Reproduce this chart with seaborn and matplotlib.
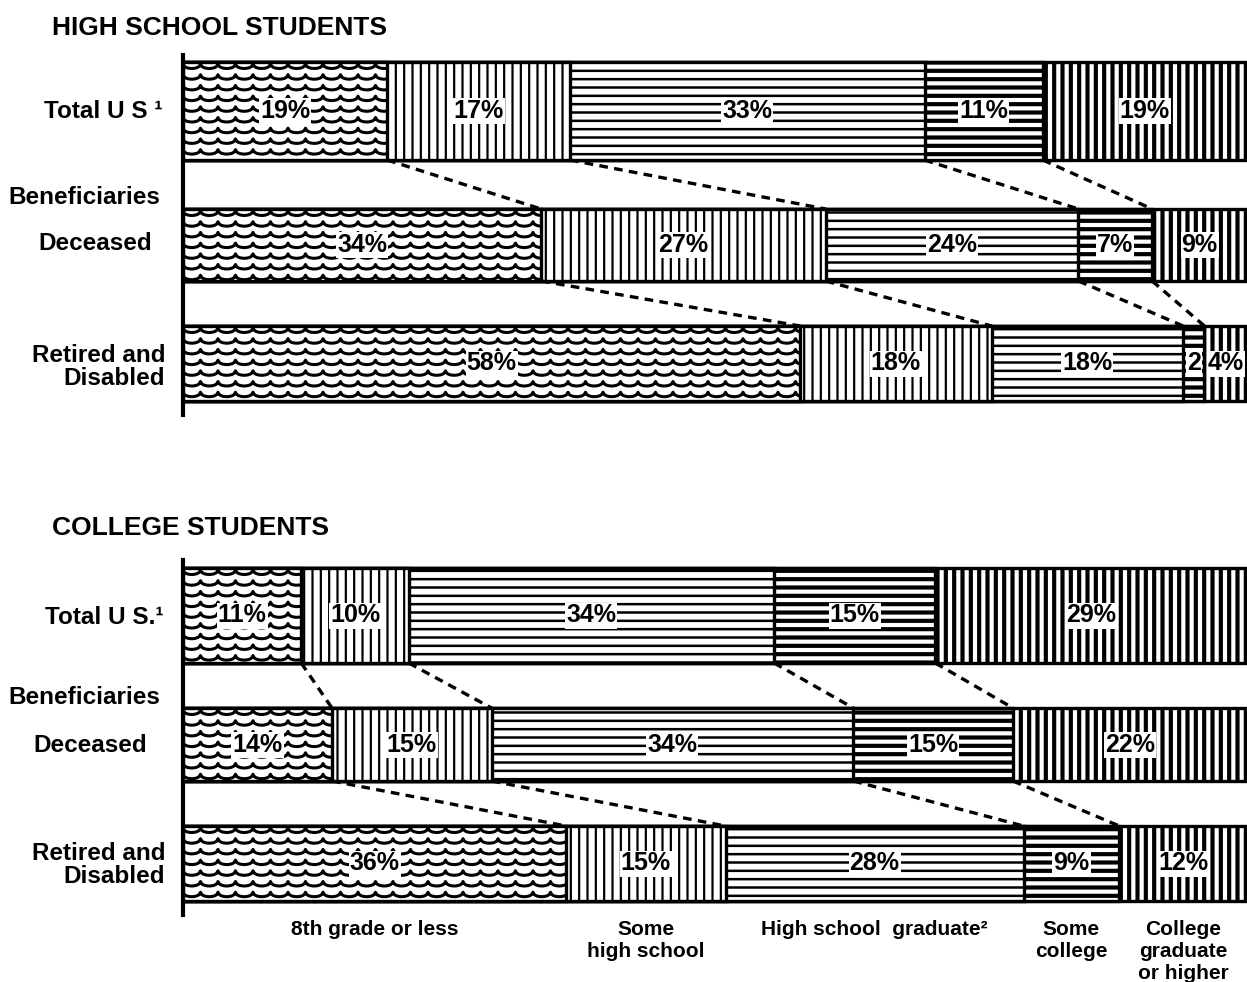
import numpy as np
import pandas as pd
import seaborn as sns
import matplotlib.pyplot as plt

# education level of parents, percent distribution
categories = ['8th grade or less', 'Some\nhigh school', 'High school  graduate²',
              'Some\ncollege', 'College\ngraduate\nor higher']
rows = ['Total U S', 'Deceased', 'Retired and Disabled']

hs_total = [19, 17, 33, 11, 19]
hs_deceased = [34, 27, 24, 7, 9]
hs_retired = [58, 18, 18, 2, 4]

col_total = [11, 10, 34, 15, 29]
col_deceased = [14, 15, 34, 15, 22]
col_retired = [36, 15, 28, 9, 12]

# styling per education level (None = wavy pattern drawn by hand)
hatches = [None, '||', '--', '--', '||']
hatch_lw = [1.6, 1.6, 1.8, 3.0, 3.0]

W, H = 1247, 982
AX_LEFT, AX_RIGHT = 183, 1247
PX_PER_UNIT = (AX_RIGHT - AX_LEFT) / 100.0

sns.set_theme(style='white')
plt.rcParams['font.family'] = ['Liberation Sans', 'DejaVu Sans']
plt.rcParams['font.weight'] = 'bold'
plt.rcParams['text.color'] = 'black'


def fig_pos(x, y):
    return x / W, 1 - y / H


def draw_waves(ax, patch, x0, x1, ytop, ybot):
    arc_w = 17.5 / PX_PER_UNIT
    t = np.linspace(0, 1, 15)
    arc = 4.5 * np.sqrt(np.clip(1 - (2 * t - 1) ** 2, 0, None))
    n = int(np.ceil((x1 - x0) / arc_w)) + 1
    xs = np.concatenate([x0 + (i + t) * arc_w for i in range(n)])
    ya = np.tile(arc, n)
    y = ytop + 2
    while y < ybot:
        line, = ax.plot(xs, y + ya, color='black', lw=2.2, zorder=2)
        line.set_clip_path(patch)
        y += 10.7


def draw_panel(ax, values, centers, heights, span):
    df = pd.DataFrame(values, index=rows)
    share = df.div(df.sum(axis=1), axis=0) * 100
    right = share.cumsum(axis=1)
    left = right - share

    for k in reversed(range(len(categories))):
        with plt.rc_context({'hatch.linewidth': hatch_lw[k]}):
            sns.barplot(x=right[k].values, y=rows, orient='h', color='white',
                        saturation=1, edgecolor='black', linewidth=2.4,
                        hatch=hatches[k], errorbar=None, ax=ax)
        patches = sorted(ax.containers[-1], key=lambda p: p.get_y())
        for i, p in enumerate(patches):
            p.set_y(centers[i] - heights[i] / 2)
            p.set_height(heights[i])
            p.set_facecolor('white')
            if hasattr(p, 'set_hatch_linewidth'):
                p.set_hatch_linewidth(hatch_lw[k])
            if hatches[k] is None:
                draw_waves(ax, p, 0, right.iloc[i, k],
                           centers[i] - heights[i] / 2, centers[i] + heights[i] / 2)

    # percent labels
    for i in range(len(rows)):
        for k in range(len(categories)):
            v = df.iloc[i, k]
            lab = f'{v}%' if v >= 3 else f'{v}'
            ax.text(left.iloc[i, k] + share.iloc[i, k] / 2, centers[i], lab,
                    ha='center', va='center', fontsize=18, fontweight='bold',
                    color='black', zorder=5,
                    bbox=dict(boxstyle='square,pad=0.04', fc='white', ec='none'))

    # dashed connectors between bars
    for i in range(len(rows) - 1):
        for k in range(len(categories) - 1):
            ax.plot([right.iloc[i, k], right.iloc[i + 1, k]],
                    [centers[i] + heights[i] / 2, centers[i + 1] - heights[i + 1] / 2],
                    color='black', lw=2.4, linestyle=(0, (2.6, 1.9)), zorder=2)

    ax.set_xlim(0, 100)
    ax.set_ylim(span, 0)
    ax.set_yticks([])
    ax.set_xticks([])
    ax.set_xlabel('')
    ax.set_ylabel('')
    for s in ['top', 'right', 'bottom']:
        ax.spines[s].set_visible(False)
    ax.spines['left'].set_linewidth(3)
    ax.spines['left'].set_color('black')
    return left, share


fig = plt.figure(figsize=(12.47, 9.82), dpi=100)

# top panel: 55..415 px
ax1 = fig.add_axes([AX_LEFT / W, 1 - 415 / H, (AX_RIGHT - AX_LEFT) / W, 360 / H])
draw_panel(ax1, [hs_total, hs_deceased, hs_retired],
           centers=[56, 190, 308.5], heights=[98, 72, 75], span=360)

# bottom panel: 560..915 px
ax2 = fig.add_axes([AX_LEFT / W, 1 - 915 / H, (AX_RIGHT - AX_LEFT) / W, 355 / H])
left2, share2 = draw_panel(ax2, [col_total, col_deceased, col_retired],
                           centers=[55.5, 184.5, 303.5], heights=[95, 73, 75], span=355)

# titles
fig.text(*fig_pos(52, 28), 'HIGH SCHOOL STUDENTS', fontsize=19, fontweight='bold',
         ha='left', va='center')
fig.text(*fig_pos(52, 528), 'COLLEGE STUDENTS', fontsize=19, fontweight='bold',
         ha='left', va='center')

# row labels
row_labels = [
    ('Total U S ¹', 162, 112, 'right'), ('Beneficiaries', 8, 198, 'left'),
    ('Deceased', 95, 243, 'center'), ('Retired and\nDisabled', 165, 367, 'right'),
    ('Total U S.¹', 163, 618, 'right'), ('Beneficiaries', 8, 698, 'left'),
    ('Deceased', 90, 745, 'center'), ('Retired and\nDisabled', 165, 865, 'right'),
]
for txt, x, y, ha in row_labels:
    fig.text(*fig_pos(x, y), txt, fontsize=17.5, fontweight='bold', ha=ha, va='center',
             multialignment='right', linespacing=1.05)

# category labels under the last bar
for k, cat in enumerate(categories):
    ax2.text(left2.iloc[2, k] + share2.iloc[2, k] / 2, 360, cat, ha='center', va='top',
             fontsize=15, fontweight='bold', linespacing=1.2, clip_on=False)

fig.savefig('out.png', dpi=100)
